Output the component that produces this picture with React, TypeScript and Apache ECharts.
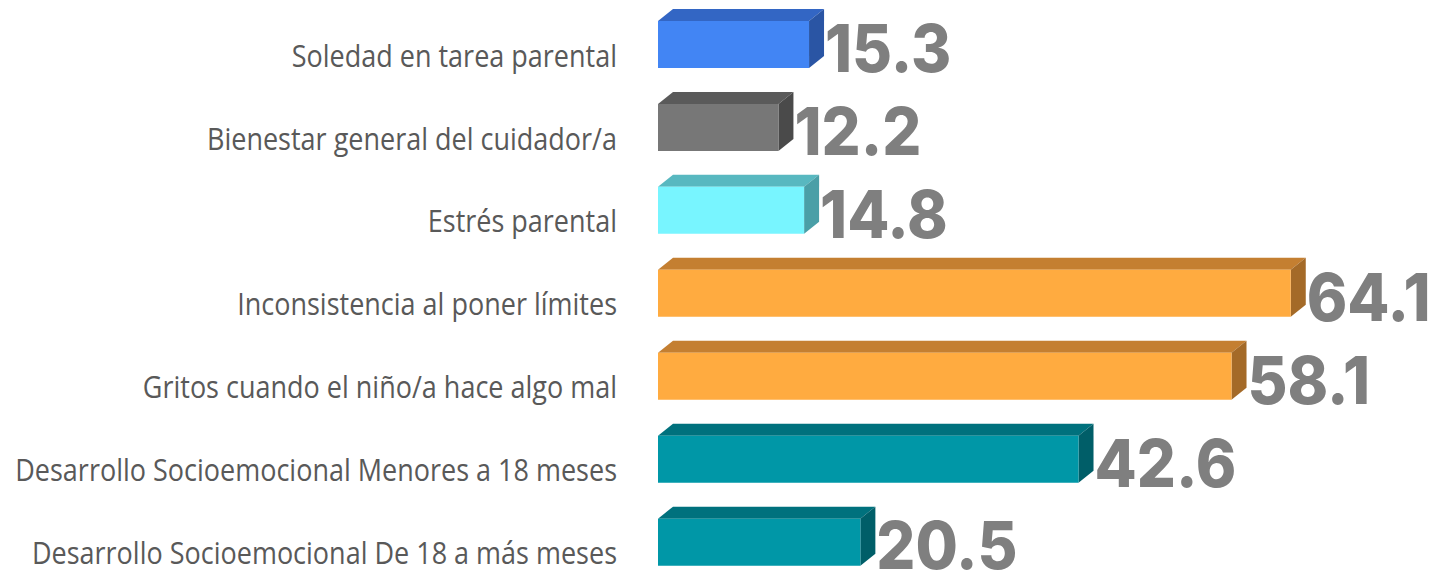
import React, { useEffect, useRef } from "react";
import * as echarts from "echarts";

const categories = [
  "Soledad en tarea parental",
  "Bienestar general del cuidador/a",
  "Estrés parental",
  "Inconsistencia al poner límites",
  "Gritos cuando el niño/a hace algo mal",
  "Desarrollo Socioemocional Menores a 18 meses",
  "Desarrollo Socioemocional De 18 a más meses",
];
const values = [15.3, 12.2, 14.8, 64.1, 58.1, 42.6, 20.5];

const frontColors = ["#4285F4", "#777777", "#78F5FF", "#FFAB40", "#FFAB40", "#0097A7", "#0097A7"];
const topColors = ["#3366C4", "#5A5A5A", "#58B8C0", "#C47F31", "#C47F31", "#00717D", "#00717D"];
const sideColors = ["#2A55A4", "#4A4A4A", "#4A9FA7", "#A46A28", "#A46A28", "#005E68", "#005E68"];

export default function App() {
  const ref = useRef<HTMLDivElement>(null);
  useEffect(() => {
    if (!ref.current) return;
    const chart = echarts.init(ref.current, null, { renderer: "svg" });
    const H = 47;
    const DX = 15;
    const DY = 12;
    chart.setOption({
      animation: false,
      backgroundColor: "#ffffff",
      grid: { left: 658, top: 3, width: 691, height: 580.6, containLabel: false },
      xAxis: { type: "value", min: 0, max: 70, show: false },
      yAxis: {
        type: "category",
        data: categories,
        inverse: true,
        axisLine: { show: false },
        axisTick: { show: false },
        splitLine: { show: false },
        axisLabel: { show: false },
      },
      series: [
        {
          type: "custom",
          encode: { x: 0, y: 1 },
          data: values.map((v, i) => [v, i]),
          renderItem: (params: any, api: any) => {
            const v = api.value(0);
            const i = api.value(1);
            const p0 = api.coord([0, i]);
            const p1 = api.coord([v, i]);
            const x0 = p0[0];
            const x1 = p1[0];
            const yT = p0[1] - H / 2;
            const yB = p0[1] + H / 2;
            return {
              type: "group",
              children: [
                {
                  type: "polygon",
                  shape: { points: [[x0, yT], [x1, yT], [x1 + DX, yT - DY], [x0 + DX, yT - DY]] },
                  style: { fill: topColors[i] },
                },
                {
                  type: "polygon",
                  shape: { points: [[x1, yT], [x1 + DX, yT - DY], [x1 + DX, yB - DY], [x1, yB]] },
                  style: { fill: sideColors[i] },
                },
                {
                  type: "rect",
                  shape: { x: x0, y: yT, width: x1 - x0, height: H },
                  style: { fill: frontColors[i] },
                },
                {
                  type: "text",
                  x: x1 + DX + 1,
                  y: p0[1] + 3,
                  scaleX: 0.93,
                  style: {
                    text: v.toFixed(1),
                    x: 0,
                    y: 0,
                    verticalAlign: "middle",
                    align: "left",
                    fill: "#7F7F7F",
                    font: "800 66px Inter",
                  },
                },
                {
                  type: "text",
                  x: x0 - 41,
                  y: p0[1] + 10,
                  scaleY: 1.12,
                  style: {
                    text: categories[i],
                    x: 0,
                    y: 0,
                    verticalAlign: "middle",
                    align: "right",
                    fill: "#595959",
                    font: "27px 'Open Sans'",
                  },
                },
              ],
            };
          },
        },
      ],
    });
    return () => chart.dispose();
  }, []);
  return (
    <div
      ref={ref}
      style={{ position: "fixed", left: 0, top: 0, width: "1437px", height: "600px" }}
    />
  );
}
